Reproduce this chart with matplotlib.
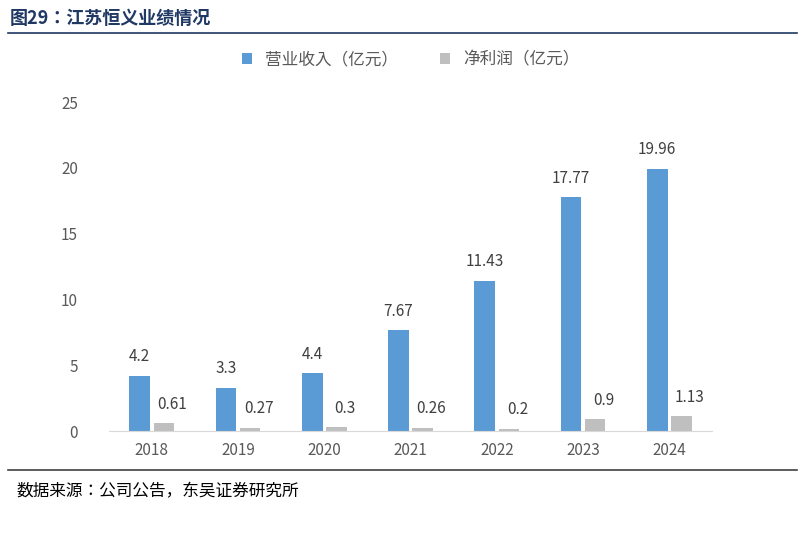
import matplotlib
matplotlib.use("Agg")
import matplotlib.pyplot as plt
from matplotlib import font_manager
import numpy as np

years = ["2018", "2019", "2020", "2021", "2022", "2023", "2024"]
revenue = [4.2, 3.3, 4.4, 7.67, 11.43, 17.77, 19.96]
profit = [0.61, 0.27, 0.3, 0.26, 0.2, 0.9, 1.13]
rev_labels = ["4.2", "3.3", "4.4", "7.67", "11.43", "17.77", "19.96"]
pro_labels = ["0.61", "0.27", "0.3", "0.26", "0.2", "0.9", "1.13"]

cjk = None
for f in font_manager.fontManager.ttflist:
    if "CJK" in f.name and ("SC" in f.name or cjk is None):
        cjk = f.name
        if "SC" in f.name:
            break
if cjk is None:
    for f in font_manager.findSystemFonts():
        if "CJK" in f or "cjk" in f.lower():
            font_manager.fontManager.addfont(f)
            cjk = font_manager.FontProperties(fname=f).get_name()
            break
plt.rcParams["font.family"] = [cjk, "DejaVu Sans"] if cjk else ["DejaVu Sans"]

fig = plt.figure(figsize=(8.05, 5.35), dpi=100)
ax = fig.add_axes([0.135, 0.194, 0.75, 0.615])
x = np.arange(len(years))
w = 0.24
off = 0.14
ax.bar(x - off, revenue, w, color="#5B9BD5", label="营业收入（亿元）")
ax.bar(x + off, profit, w, color="#BFBFBF", label="净利润（亿元）")
for i in range(len(years)):
    ax.text(x[i] - off, revenue[i] + 0.8, rev_labels[i], ha="center", va="bottom", fontsize=11, color="#404040")
    ax.text(x[i] + off + 0.1, profit[i] + 0.8, pro_labels[i], ha="center", va="bottom", fontsize=11, color="#404040")
ax.set_xlim(-0.5, 6.5)
ax.set_ylim(0, 25)
ax.set_yticks([0, 5, 10, 15, 20, 25])
ax.set_xticks(x)
ax.set_xticklabels(years)
ax.tick_params(axis="both", length=0, labelsize=11, colors="#595959")
ax.tick_params(axis="y", pad=22)
ax.tick_params(axis="x", pad=8)
for s in ["top", "right", "left"]:
    ax.spines[s].set_visible(False)
ax.spines["bottom"].set_color("#D9D9D9")
ax.legend(loc="upper center", bbox_to_anchor=(0.5, 1.2), ncol=2, frameon=False, fontsize=12,
          handlelength=0.6, handleheight=0.6, columnspacing=2.5, labelcolor="#595959")

fig.text(0.012, 0.965, "图29：江苏恒义业绩情况", fontsize=13, fontweight="bold", color="#1F3864", va="center")
fig.add_artist(plt.Line2D([0.01, 0.99], [0.938, 0.938], color="#1F3864", lw=1.2))
fig.add_artist(plt.Line2D([0.01, 0.99], [0.122, 0.122], color="#404040", lw=1.2))
fig.text(0.02, 0.08, "数据来源：公司公告，东吴证券研究所", fontsize=12, color="#000000", va="center")
fig.savefig("out.png", dpi=100)
